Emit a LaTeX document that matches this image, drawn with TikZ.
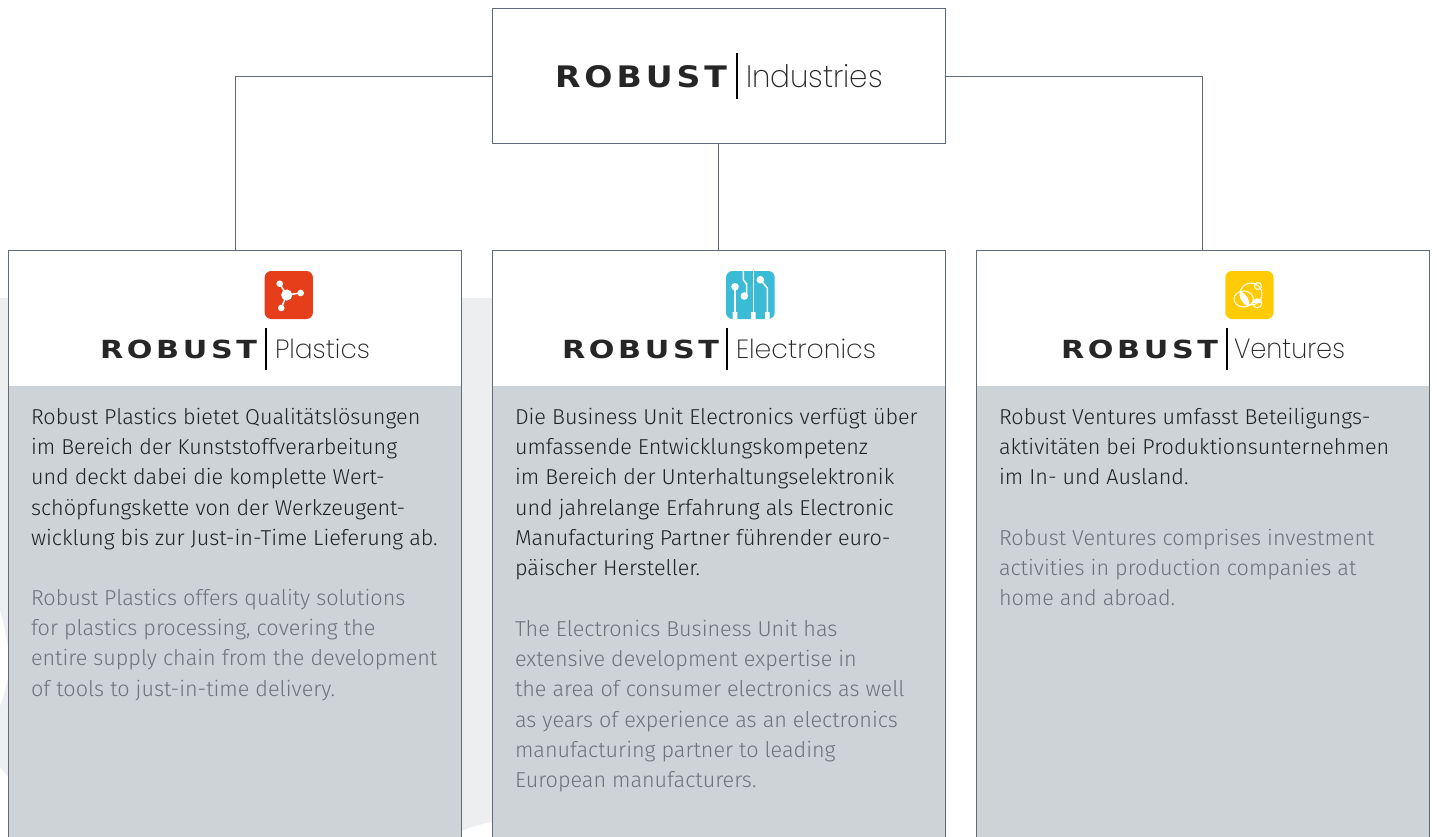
\documentclass[tikz,border=0pt]{standalone}
\usepackage{fontspec}
\setmainfont{Fira Sans Light}
\newfontfamily\logobold[LetterSpace=12]{DejaVu Sans}
\newfontfamily\logothin{Poppins ExtraLight}
\definecolor{edge}{HTML}{5F6B78}
\definecolor{panel}{HTML}{CED3D7}
\definecolor{backdrop}{HTML}{ECEEF0}
\definecolor{ink}{HTML}{1F2225}
\definecolor{faint}{HTML}{6C7379}
\definecolor{redicon}{HTML}{E63E1A}
\definecolor{blueicon}{HTML}{3ABCD7}
\definecolor{yellowicon}{HTML}{FFCB05}
\tikzset{
  wire/.style={draw=edge,line width=0.9pt},
  topbox/.style={wire,fill=white,minimum width=453pt,minimum height=135pt,inner sep=0pt,outer sep=0pt},
  column/.style={wire,fill=white,minimum width=453pt,minimum height=640pt,inner sep=0pt,outer sep=0pt,anchor=north west,
    path picture={\fill[panel] ([yshift=-135.5pt]path picture bounding box.north west) rectangle (path picture bounding box.south east);}},
  de/.style={anchor=north west,inner sep=0pt,outer sep=0pt,align=left,text=ink,font=\fontsize{21.6pt}{30.25pt}\selectfont},
  en/.style={de,text=faint},
  logotext/.style={anchor=south west,inner sep=0pt,outer sep=0pt,text=black!85},
  divider/.style={draw=black,line width=1.9pt},
  iconsq/.style={rounded corners=6.5pt},
  trace/.style={draw=white,line width=1.5pt},
  thintrace/.style={draw=white,line width=1pt},
}
\newcommand{\rb}[2]{\resizebox{#1pt}{#2pt}{\logobold\bfseries ROBUST}}
\newcommand{\tn}[3]{\resizebox{#1pt}{#2pt}{\logothin #3}}
\begin{document}
\begin{tikzpicture}[x=1pt,y=-1pt]
\useasboundingbox (0,0) rectangle (1437,837);
\clip (0,0) rectangle (1437,837);
% backdrop shapes
\fill[backdrop] (0,298) -- (8,298) -- (8,646) .. controls (5,630) and (3,620) .. (0,610) -- cycle;
\fill[backdrop] (0,706) .. controls (3,698) and (6,688) .. (8,678) -- (8,777) -- (0,767) -- cycle;
\fill[backdrop] (462,298) -- (492,298) -- (492,822) .. controls (481,824) and (471,827) .. (462,831) -- cycle;
% boxes
\node[topbox] (top) at (719,76) {};
\node[column] (plastics) at (8.5,250.5) {};
\node[column] (electronics) at (492.5,250.5) {};
\node[column] (ventures) at (976.5,250.5) {};
% connectors
\draw[wire] (top.west) -| (plastics.north);
\draw[wire] ([xshift=-0.8pt]top.south) -- ([xshift=-0.8pt]electronics.north);
\draw[wire] (top.east) -| ([xshift=-0.8pt]ventures.north);
% top logo
\node[logotext] (l0a) at (555,88) {\rb{172}{22}};
\coordinate (d0a) at (737,53); \coordinate (d0b) at (737,99);
\draw[divider] (d0a) -- (d0b);
\node[logotext] (l0b) at (746,88) {\tn{137}{23}{Industries}};
% plastics logo
\fill[redicon,iconsq] (264.7,271) rectangle (312.9,319);
\fill[white] (286.7,295) circle (5.6) (279.7,283.7) circle (3.3) (300.7,293) circle (3.3) (281.3,308) circle (3.3);
\draw[trace] (279.7,283.7) -- (286.7,295) -- (300.7,293) (286.7,295) -- (281.3,308);
\node[logotext] (l1a) at (100,358.5) {\rb{157}{18.5}};
\coordinate (d1a) at (265.7,328); \coordinate (d1b) at (265.7,370);
\draw[divider] (d1a) -- (d1b);
\node[logotext] (l1b) at (275,358.5) {\tn{95}{19.5}{Plastics}};
% electronics logo
\fill[blueicon,iconsq] (726,271) rectangle (774.7,319);
\begin{scope}
\clip[iconsq] (726,271) rectangle (774.7,319);
\fill[white] (735,286.7) circle (3.8) (744.3,296) circle (3.8) (760.3,279.7) circle (3.8);
\draw[trace] (735,286.7) -- (735,320);
\draw[trace] (743.3,270) -- (743.3,280) -- (746.7,284) -- (746.7,294);
\draw[trace] (753.3,270) -- (753.3,320);
\draw[trace] (760.3,279.7) -- (767.3,288) -- (767.3,320);
\fill[white] (732.7,312) rectangle (737.3,320) (751,312) rectangle (755.6,320) (765,312) rectangle (769.6,320);
\end{scope}
\node[logotext] (l2a) at (562,358.5) {\rb{157}{18.5}};
\coordinate (d2a) at (727,328); \coordinate (d2b) at (727,370);
\draw[divider] (d2a) -- (d2b);
\node[logotext] (l2b) at (736,358.5) {\tn{140}{19.5}{Electronics}};
% ventures logo
\fill[yellowicon,iconsq] (1225.3,271) rectangle (1273.5,319);
\draw[thintrace] (1251,294) circle (11);
\draw[thintrace] (1243.7,299) ellipse (9.7 and 8);
\draw[thintrace] (1258,286) circle (3.5);
\draw[thintrace] (1257.3,303.3) circle (4.5);
\fill[white] (1240,291.5) .. controls (1246,293) and (1251,301) .. (1249,306.5) .. controls (1243,305) and (1239,298) .. (1240,291.5) -- cycle;
\fill[white] (1253,303) arc[start angle=180,end angle=360,radius=4.4] -- cycle;
\node[logotext] (l3a) at (1061,358.5) {\rb{157}{18.5}};
\coordinate (d3a) at (1227,328); \coordinate (d3b) at (1227,370);
\draw[divider] (d3a) -- (d3b);
\node[logotext] (l3b) at (1234,358.5) {\tn{111}{19.5}{Ventures}};
% text
\node[de] (t1de) at (31,408) {Robust Plastics bietet Qualitätslösungen\\im Bereich der Kunststoffverarbeitung\\und deckt dabei die komplette Wert-\\schöpfungskette von der Werkzeugent-\\wicklung bis zur Just-in-Time Lieferung ab.};
\node[en] (t1en) at (31,589) {Robust Plastics offers quality solutions\\for plastics processing, covering the\\entire supply chain from the development\\of tools to just-in-time delivery.};
\node[de] (t2de) at (515,408) {Die Business Unit Electronics verfügt über\\umfassende Entwicklungskompetenz\\im Bereich der Unterhaltungselektronik\\und jahrelange Erfahrung als Electronic\\Manufacturing Partner führender euro-\\päischer Hersteller.};
\node[en] (t2en) at (515,620) {The Electronics Business Unit has\\extensive development expertise in\\the area of consumer electronics as well\\as years of experience as an electronics\\manufacturing partner to leading\\European manufacturers.};
\node[de] (t3de) at (999,408) {Robust Ventures umfasst Beteiligungs-\\aktivitäten bei Produktionsunternehmen\\im In- und Ausland.};
\node[en] (t3en) at (999,529) {Robust Ventures comprises investment\\activities in production companies at\\home and abroad.};
\end{tikzpicture}
\end{document}
